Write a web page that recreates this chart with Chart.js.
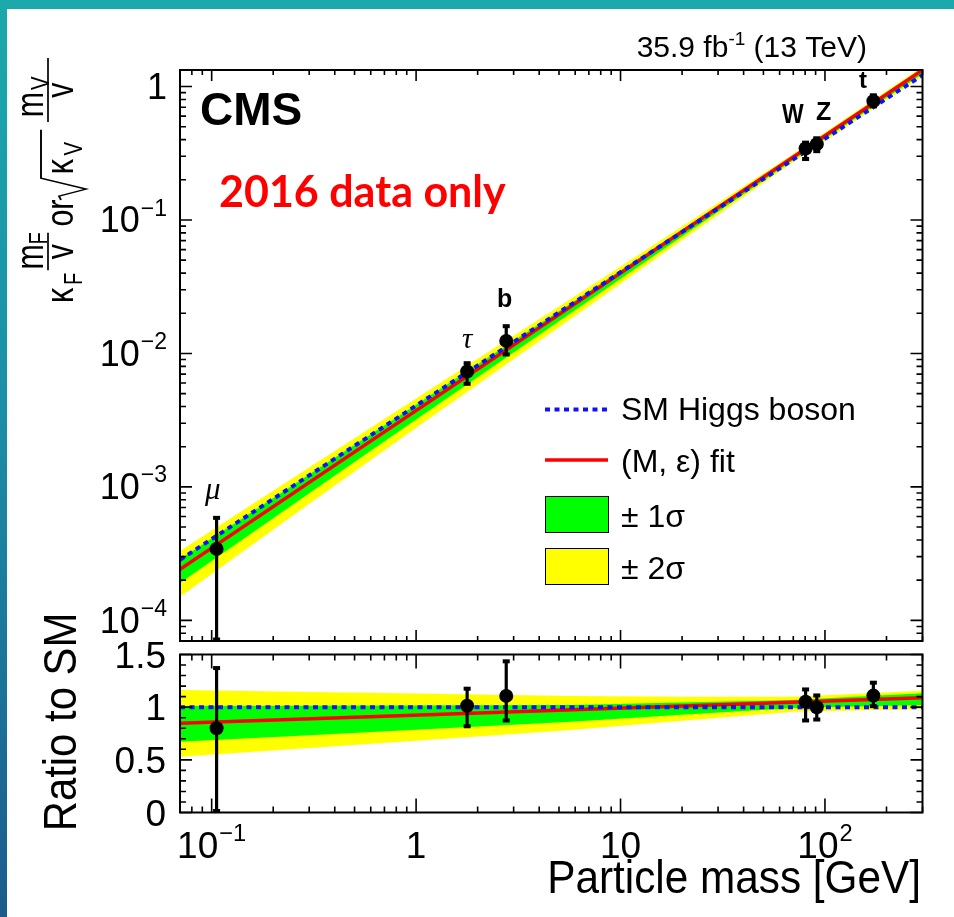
<!DOCTYPE html>
<html>
<head>
<meta charset="utf-8">
<script src="https://cdn.jsdelivr.net/npm/chart.js@4.4.1/dist/chart.umd.min.js"></script>
<style>
html, body { margin: 0; padding: 0; }
body {
    width: 954px; height: 917px; overflow: hidden; position: relative;
    background: linear-gradient(180deg, #1ba9ab 0%, #1b8ea6 45%, #1c5b8c 100%);
}
#sheet { position: absolute; left: 7px; top: 9px; width: 947px; height: 908px; background: #fff; }
#topChart { position: absolute; left: 0; top: 0; }
#ratioChart { position: absolute; left: 0; top: 590px; }
</style>
</head>
<body>
<div id="sheet"></div>
<canvas id="topChart" width="954" height="648"></canvas>
<canvas id="ratioChart" width="954" height="327"></canvas>
<script>
// measured particles (mass in GeV)
const particles = ['μ', 'τ', 'b', 'W', 'Z', 't'];
const particleMass = [0.1057, 1.777, 2.76, 80.4, 91.19, 172.5];
const couplingValue = [3.43e-4, 7.32e-3, 0.01241, 0.3435, 0.370, 0.778];
const couplingUp = [5.91e-4, 8.52e-3, 0.01614, 0.383, 0.413, 0.867];
const couplingDown = [0, 5.87e-3, 9.74e-3, 0.2838, 0.325, 0.704];
const ratioValue = [0.80, 1.014, 1.107, 1.052, 0.999, 1.11];
const ratioUp = [1.376, 1.18, 1.44, 1.173, 1.116, 1.237];
const ratioDown = [0, 0.814, 0.869, 0.869, 0.878, 1.005];

// SM and fit lines
const lineMass = [0.07, 300];
const smLine = [2.843e-4, 1.218];
const fitLine = [2.408e-4, 1.328];
const smRatio = [1, 1];
const fitRatio = [0.847, 1.09];

// 1 and 2 sigma bands
const bandMass = [0.07, 0.3, 1, 5.7, 20, 70, 300];
const band2Up = [3.309e-4, 1.395e-3, 4.589e-3, 0.02563, 0.08935, 0.3127, 1.410];
const band2Down = [1.504e-4, 7.469e-4, 2.770e-3, 0.01813, 0.07067, 0.2721, 1.198];
const band1Up = [2.874e-4, 1.2355e-3, 4.130e-3, 0.02364, 0.08489, 0.3039, 1.379];
const band1Down = [1.908e-4, 8.943e-4, 3.192e-3, 0.01996, 0.0753, 0.2820, 1.244];
const ratio2Up = [1.164, 1.145, 1.130, 1.107, 1.10, 1.10, 1.157];
const ratio2Down = [0.529, 0.613, 0.682, 0.783, 0.87, 0.957, 0.983];
const ratio1Up = [1.011, 1.014, 1.017, 1.021, 1.045, 1.069, 1.132];
const ratio1Down = [0.671, 0.734, 0.786, 0.862, 0.927, 0.992, 1.021];

// tick labels
const xTickValues = [0.1, 1, 10, 100];
const xTickLabels = [['10', '−1'], ['1', ''], ['10', ''], ['10', '2']];
const yTickValues = [1, 0.1, 0.01, 0.001, 0.0001];
const yTickLabels = [['1', ''], ['10', '−1'], ['10', '−2'], ['10', '−3'], ['10', '−4']];
const ratioTickValues = [0, 0.5, 1, 1.5];
const ratioTickLabels = ['0', '0.5', '1', '1.5'];

const FONT = '"Liberation Sans", Arial, Helvetica, sans-serif';
const BLUE = '#1010ff', RED = '#ff0000', GREEN = '#00ff00', YELLOW = '#ffff00';

const pts = (xs, ys) => xs.map((x, i) => ({ x: x, y: ys[i] }));

function buildDatasets(vals, sm, fit, b1u, b1d, b2u, b2d) {
    const none = 'rgba(0,0,0,0)';
    return [
        { data: pts(particleMass, vals), showLine: false, pointRadius: 7, pointBackgroundColor: '#000', pointBorderColor: '#000', pointBorderWidth: 0 },
        { data: pts(lineMass, sm), borderColor: BLUE, borderWidth: 4, borderDash: [5, 4.5], pointRadius: 0, clip: 0 },
        { data: pts(lineMass, fit), borderColor: RED, borderWidth: 3.5, pointRadius: 0, clip: 0 },
        { data: pts(bandMass, b1u), borderColor: none, pointRadius: 0, fill: '+1', backgroundColor: GREEN, clip: 0 },
        { data: pts(bandMass, b1d), borderColor: none, pointRadius: 0, clip: 0 },
        { data: pts(bandMass, b2u), borderColor: none, pointRadius: 0, fill: '+1', backgroundColor: YELLOW, clip: 0 },
        { data: pts(bandMass, b2d), borderColor: none, pointRadius: 0, clip: 0 }
    ];
}

function logTicks(scale) {
    const out = [];
    for (let d = Math.floor(Math.log10(scale.min)); d <= Math.ceil(Math.log10(scale.max)); d++) {
        for (let k = 1; k <= 9; k++) {
            const v = k * Math.pow(10, d);
            if (v >= scale.min * 0.999 && v <= scale.max * 1.001) out.push({ v: v, major: k === 1 });
        }
    }
    return out;
}

function linTicks() {
    const out = [];
    for (let i = 0; i <= 15; i++) out.push({ v: i / 10, major: i % 5 === 0 });
    return out;
}

function frameAndTicks(chart, xLen, yLen, yTicks) {
    const { ctx, chartArea: a, scales: { x, y } } = chart;
    ctx.save();
    ctx.strokeStyle = '#000';
    ctx.lineWidth = 1.6;
    ctx.beginPath();
    logTicks(x).forEach(t => {
        const px = x.getPixelForValue(t.v);
        const l = t.major ? xLen[0] : xLen[1];
        ctx.moveTo(px, a.top); ctx.lineTo(px, a.top + l);
        ctx.moveTo(px, a.bottom); ctx.lineTo(px, a.bottom - l);
    });
    yTicks.forEach(t => {
        const py = y.getPixelForValue(t.v);
        const l = t.major ? yLen[0] : yLen[1];
        ctx.moveTo(a.left, py); ctx.lineTo(a.left + l, py);
        ctx.moveTo(a.right, py); ctx.lineTo(a.right - l, py);
    });
    ctx.stroke();
    ctx.lineWidth = 2;
    ctx.strokeRect(a.left, a.top, a.right - a.left, a.bottom - a.top);
    ctx.restore();
}

function drawErrors(chart, ups, downs) {
    const { ctx, chartArea: a, scales: { x, y } } = chart;
    ctx.save();
    ctx.beginPath();
    ctx.rect(a.left, a.top, a.right - a.left, a.bottom - a.top);
    ctx.clip();
    ctx.strokeStyle = '#000';
    ctx.fillStyle = '#000';
    ctx.lineWidth = 3.2;
    particleMass.forEach((m, i) => {
        const px = x.getPixelForValue(m);
        const top = Math.max(a.top + 1, y.getPixelForValue(ups[i]));
        const bot = Math.min(a.bottom - 1, y.getPixelForValue(downs[i]));
        ctx.beginPath(); ctx.moveTo(px, top); ctx.lineTo(px, bot); ctx.stroke();
        ctx.fillRect(px - 3.5, top - 1.5, 7, 4);
        ctx.fillRect(px - 3.5, bot - 2.5, 7, 4);
    });
    ctx.restore();
}

function font(size, weight, family) {
    return (weight || 'normal') + ' ' + size + 'px ' + (family || FONT);
}

function text(ctx, str, x, y, size, opt) {
    opt = opt || {};
    ctx.save();
    ctx.font = font(size, opt.weight, opt.family);
    ctx.fillStyle = opt.color || '#000';
    ctx.textAlign = opt.align || 'left';
    ctx.textBaseline = 'alphabetic';
    ctx.translate(x, y);
    if (opt.rot) ctx.rotate(opt.rot);
    ctx.scale(opt.sx || 1, 1);
    ctx.fillText(str, 0, 0);
    ctx.restore();
}

// label like 10^-1 : base + raised exponent
function powLabel(ctx, parts, x, y, size, align) {
    ctx.save();
    ctx.fillStyle = '#000';
    ctx.textBaseline = 'alphabetic';
    ctx.textAlign = 'left';
    ctx.font = font(size);
    const wb = ctx.measureText(parts[0]).width;
    ctx.font = font(size * 0.64);
    const we = parts[1] ? ctx.measureText(parts[1]).width + 1 : 0;
    const w = wb + we;
    const x0 = align === 'right' ? x - w : align === 'center' ? x - w / 2 : x;
    ctx.font = font(size);
    ctx.fillText(parts[0], x0, y);
    if (parts[1]) {
        ctx.font = font(size * 0.64);
        ctx.fillText(parts[1], x0 + wb + 1, y - size * 0.47);
    }
    ctx.restore();
}

function drawYTitle(ctx) {
    ctx.save();
    ctx.translate(73, 303);
    ctx.rotate(-Math.PI / 2);
    ctx.scale(0.78, 1);
    ctx.fillStyle = '#000';
    ctx.strokeStyle = '#000';
    ctx.textBaseline = 'alphabetic';
    const big = font(39), small = font(26);
    // kappa_F m_F / v
    ctx.font = big; ctx.fillText('κ', 0, 0);
    ctx.font = small; ctx.fillText('F', 23, 9);
    ctx.font = big; ctx.fillText('m', 43, -30);
    ctx.font = small; ctx.fillText('F', 75, -26);
    ctx.lineWidth = 1.7;
    ctx.beginPath(); ctx.moveTo(42, -25); ctx.lineTo(90, -25); ctx.stroke();
    ctx.font = big; ctx.fillText('v', 56, 0);
    // or
    ctx.fillText('or', 98, 0);
    // sqrt(kappa_V) m_V / v
    ctx.lineWidth = 1.9;
    ctx.beginPath();
    ctx.moveTo(132, -12); ctx.lineTo(137, -14); ctx.lineTo(146, 13); ctx.lineTo(160, -32); ctx.lineTo(222, -32);
    ctx.stroke();
    ctx.font = big; ctx.fillText('κ', 165, 0);
    ctx.font = small; ctx.fillText('V', 189, 9);
    ctx.font = big; ctx.fillText('m', 238, -30);
    ctx.font = small; ctx.fillText('V', 273, -24);
    ctx.lineWidth = 1.7;
    ctx.beginPath(); ctx.moveTo(232, -25); ctx.lineTo(314, -25); ctx.stroke();
    ctx.font = big; ctx.fillText('v', 263, 0);
    ctx.restore();
}

function drawLegend(ctx) {
    ctx.save();
    ctx.lineWidth = 4;
    ctx.strokeStyle = BLUE;
    ctx.setLineDash([5, 4.5]);
    ctx.beginPath(); ctx.moveTo(545, 409.5); ctx.lineTo(608, 409.5); ctx.stroke();
    ctx.setLineDash([]);
    ctx.strokeStyle = RED;
    ctx.lineWidth = 3.5;
    ctx.beginPath(); ctx.moveTo(545, 460); ctx.lineTo(608, 460); ctx.stroke();
    ctx.lineWidth = 1;
    ctx.strokeStyle = '#000';
    ctx.fillStyle = GREEN;
    ctx.fillRect(545.5, 496.5, 63, 36); ctx.strokeRect(545.5, 496.5, 63, 36);
    ctx.fillStyle = YELLOW;
    ctx.fillRect(545.5, 548.5, 63, 36); ctx.strokeRect(545.5, 548.5, 63, 36);
    ctx.restore();
    text(ctx, 'SM Higgs boson', 621, 420, 32);
    text(ctx, '(M, ε) fit', 621, 472, 32);
    text(ctx, '± 1σ', 621, 527, 32);
    text(ctx, '± 2σ', 621, 579, 32);
}

const topDecor = {
    id: 'topDecor',
    afterDatasetDraw(chart, args) {
        if (args.index === 1) drawErrors(chart, couplingUp, couplingDown);
    },
    afterDraw(chart) {
        const { ctx, scales: { y } } = chart;
        frameAndTicks(chart, [11, 5], [12, 6], logTicks(y));
        yTickValues.forEach((v, i) => powLabel(ctx, yTickLabels[i], 167, y.getPixelForValue(v) + 12.5, 36, 'right'));
        drawYTitle(ctx);
        // lumi label
        ctx.save();
        ctx.font = font(30);
        const w2 = ctx.measureText(' (13 TeV)').width;
        ctx.font = font(19);
        const w1 = ctx.measureText('-1').width;
        ctx.restore();
        text(ctx, ' (13 TeV)', 867, 57, 30, { align: 'right' });
        text(ctx, '-1', 867 - w2, 45, 19, { align: 'right' });
        text(ctx, '35.9 fb', 867 - w2 - w1, 57, 30, { align: 'right' });
        text(ctx, 'CMS', 200, 125, 46, { weight: 'bold' });
        text(ctx, '2016 data only', 219, 207, 43, { weight: 'bold', color: '#ff0000', family: 'Lato, "Open Sans", sans-serif' });
        // particle names
        text(ctx, 'μ', 205, 499, 31, { family: '"Liberation Serif", serif', weight: 'italic' });
        text(ctx, 'τ', 462, 348, 29, { family: '"Liberation Serif", serif', weight: 'italic' });
        text(ctx, 'b', 497, 307, 25, { weight: 'bold' });
        text(ctx, 'W', 782, 123, 27, { weight: 'bold', sx: 0.85 });
        text(ctx, 'Z', 816, 120, 25, { weight: 'bold' });
        text(ctx, 't', 859, 88, 24, { weight: 'bold' });
        drawLegend(ctx);
    }
};

const ratioDecor = {
    id: 'ratioDecor',
    afterDatasetDraw(chart, args) {
        if (args.index === 1) drawErrors(chart, ratioUp, ratioDown);
    },
    afterDraw(chart) {
        const { ctx, scales: { x, y } } = chart;
        frameAndTicks(chart, [14, 6], [12, 6], linTicks());
        ratioTickValues.forEach((v, i) => text(ctx, ratioTickLabels[i], 166, y.getPixelForValue(v) + 13, 37, { align: 'right' }));
        xTickValues.forEach((v, i) => powLabel(ctx, xTickLabels[i], x.getPixelForValue(v), 268, 37, 'center'));
        text(ctx, 'Particle mass [GeV]', 921, 303, 47, { align: 'right', sx: 0.9 });
        text(ctx, 'Ratio to SM', 76, 132, 47, { align: 'center', rot: -Math.PI / 2, sx: 0.89 });
    }
};

function makeChart(id, datasets, yScale, pad, decor) {
    return new Chart(document.getElementById(id).getContext('2d'), {
        type: 'line',
        data: { datasets: datasets },
        options: {
            responsive: false,
            animation: false,
            events: [],
            layout: { padding: pad },
            scales: {
                x: { type: 'logarithmic', min: 0.07, max: 300, display: false },
                y: yScale
            },
            plugins: { legend: { display: false }, tooltip: { enabled: false } }
        },
        plugins: [decor]
    });
}

makeChart('topChart',
    buildDatasets(couplingValue, smLine, fitLine, band1Up, band1Down, band2Up, band2Down),
    { type: 'logarithmic', min: 7e-5, max: 1.33, display: false },
    { left: 180, right: 31.5, top: 70, bottom: 5.3 },
    topDecor);

makeChart('ratioChart',
    buildDatasets(ratioValue, smRatio, fitRatio, ratio1Up, ratio1Down, ratio2Up, ratio2Down),
    { type: 'linear', min: 0, max: 1.5, display: false },
    { left: 180, right: 31.5, top: 64.5, bottom: 104.5 },
    ratioDecor);
</script>
</body>
</html>
